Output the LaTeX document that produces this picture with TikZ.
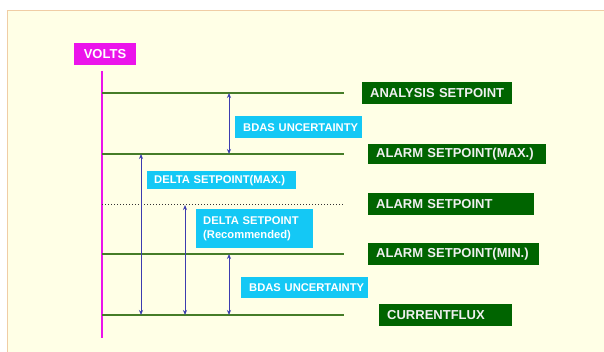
\documentclass[tikz,border=0pt]{standalone}
\usepackage{fontspec}
\setmainfont{Liberation Sans}
\usetikzlibrary{arrows.meta}

\definecolor{panelbg}{RGB}{255,255,230}
\definecolor{panelrim}{RGB}{240,205,165}
\definecolor{levelgreen}{RGB}{70,125,40}
\definecolor{tagcyan}{RGB}{20,200,245}
\definecolor{taggreen}{RGB}{0,100,0}
\definecolor{spanblue}{RGB}{60,60,175}
\definecolor{axismagenta}{RGB}{235,20,235}

\tikzset{
	level/.style={levelgreen,line width=1.3pt},
	span/.style={spanblue,line width=0.9pt,{Stealth[length=5pt,width=4pt]}-{Stealth[length=5pt,width=4pt]}},
	spantag/.style={fill=tagcyan,text=white,font=\bfseries\fontsize{11.2}{13.5}\selectfont,inner sep=0pt,anchor=north west,align=left},
	leveltag/.style={fill=taggreen,text=white!94!black,font=\bfseries\fontsize{13}{15}\selectfont,inner sep=0pt,anchor=north west,align=left}
}

\begin{document}
\begin{tikzpicture}[x=1pt,y=-1pt]
			\useasboundingbox (0,0) rectangle (604,352);
			\fill[white] (0,0) rectangle (604,352);
			\draw[panelrim,fill=panelbg,line width=1.5pt] (7.5,10.5) rectangle (606,354);
			% axis
			\node[fill=axismagenta,text=white,font=\bfseries\fontsize{13}{15}\selectfont,minimum width=62pt,minimum height=22pt,inner sep=0pt] (volts) at (105,54) {VOLTS};
			\coordinate (axistop) at (102,71);
			\coordinate (axisbot) at (102,338);
			\draw[axismagenta,line width=1.3pt] (axistop) -- (axisbot);
			% levels
			\foreach \n/\y in {analysis/93,alarmmax/154,alarmmin/254,flux/315}{
				\coordinate (\n-l) at (102,\y);
				\coordinate (\n-r) at (344,\y);
				\draw[level] (\n-l) -- (\n-r);
			}
			\coordinate (alarm-l) at (102,205);
			\coordinate (alarm-r) at (344,205);
			\draw[black!80,line width=1pt,dotted] (alarm-l) -- (alarm-r);
			% spans
			\draw[span] (229,93) coordinate (bdas1-t) -- (229,154) coordinate (bdas1-b);
			\draw[span] (141,154) coordinate (dmax-t) -- (141,315) coordinate (dmax-b);
			\draw[span] (185,205) coordinate (drec-t) -- (185,315) coordinate (drec-b);
			\draw[span] (229,254) coordinate (bdas2-t) -- (229,315) coordinate (bdas2-b);
			% span tags
			\node[spantag,minimum width=127pt,minimum height=22pt,text width=127pt] (bdas1) at (235,116) {\hspace*{8pt}BDAS UNCERTAINTY};
			\node[spantag,minimum width=149pt,minimum height=18pt,text width=149pt] (dmax) at (147,171) {\hspace*{7pt}DELTA SETPOINT(MAX.)};
			\node[spantag,minimum width=117pt,minimum height=39pt,text width=117pt] (drec) at (196,209) {\hspace*{7pt}DELTA SETPOINT\\\hspace*{7pt}(Recommended)};
			\node[spantag,minimum width=127pt,minimum height=21pt,text width=127pt] (bdas2) at (241,277) {\hspace*{8pt}BDAS UNCERTAINTY};
			% level tags
			\node[leveltag,minimum width=150pt,minimum height=22pt,text width=150pt] (analysis) at (362,82) {\hspace*{8pt}ANALYSIS SETPOINT};
			\node[leveltag,minimum width=178pt,minimum height=20pt,text width=178pt] (alarmmax) at (368,144) {\hspace*{8pt}ALARM SETPOINT(MAX.)};
			\node[leveltag,minimum width=166pt,minimum height=22pt,text width=166pt] (alarm) at (368,193) {\hspace*{8pt}ALARM SETPOINT};
			\node[leveltag,minimum width=171pt,minimum height=22pt,text width=171pt] (alarmmin) at (368,243) {\hspace*{8pt}ALARM SETPOINT(MIN.)};
			\node[leveltag,minimum width=133pt,minimum height=22pt,text width=133pt] (flux) at (379,304) {\hspace*{8pt}CURRENTFLUX};
		\end{tikzpicture}
\end{document}
